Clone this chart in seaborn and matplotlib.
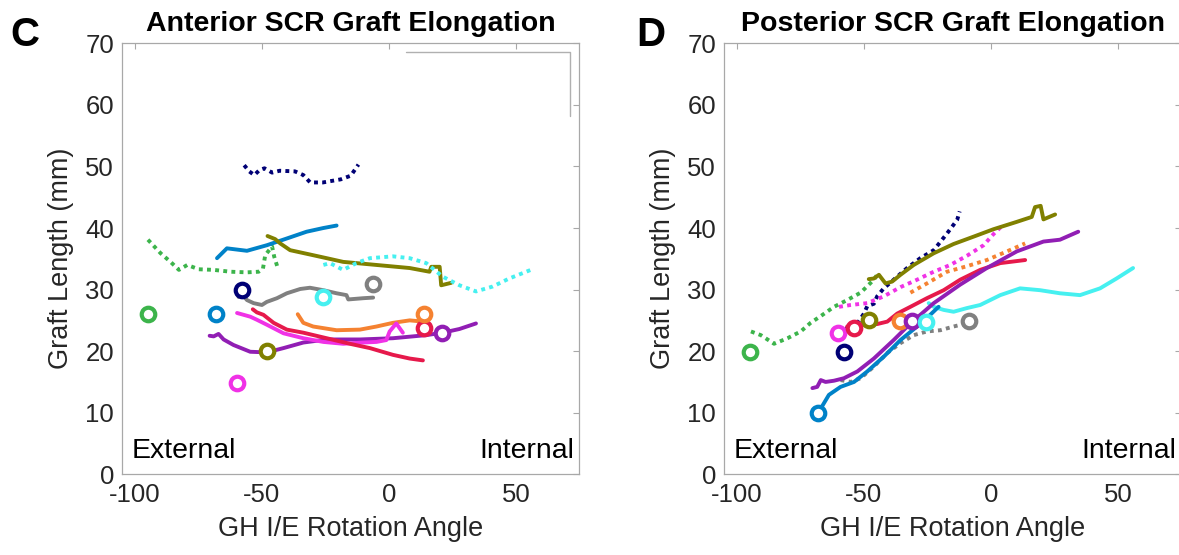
import numpy as np
import pandas as pd
import matplotlib
matplotlib.use("Agg")
import matplotlib.pyplot as plt
import seaborn as sns
from matplotlib.lines import Line2D

# ---------------- Panel C: Anterior SCR graft ----------------
ant_navy_x = [-57, -55, -53, -51, -49, -46, -43, -37, -33.7, -31, -26, -19, -15, -12]
ant_navy_y = [50.2, 49.2, 48.6, 49.4, 49.7, 49.0, 49.3, 49.2, 48.6, 47.4, 47.4, 47.9, 48.5, 50.3]

ant_blue_x = [-67.7, -63.8, -55.9, -48.1, -40.2, -32.4, -25.8, -20.6]
ant_blue_y = [35.1, 36.7, 36.3, 37.2, 38.3, 39.4, 40.0, 40.4]

ant_green_x = [-94.9, -89.9, -86, -82.7, -79.4, -74.9, -69, -62.4, -55.9, -51.3, -49.6, -48.7, -46.0, -45.2, -44.0]
ant_green_y = [38.1, 35.9, 34.5, 33.2, 34.0, 33.3, 33.2, 32.9, 32.8, 32.9, 33.4, 35.6, 37.0, 35.4, 33.8]

ant_olive_x = [-47.8, -44.8, -42.8, -38.9, -31.1, -24.5, -18, -4.9, 8.2, 16, 16.7, 20, 20.6, 24.6]
ant_olive_y = [38.7, 38.2, 37.5, 36.4, 35.7, 35.1, 34.5, 34.0, 33.5, 32.9, 33.7, 33.7, 30.7, 31.1]

ant_cyan_x = [-25.8, -23.2, -18, -12.8, -7.5, 1.6, 8.2, 14.7, 21.2, 27.8, 34.3, 40.9, 47.4, 55.9]
ant_cyan_y = [34.0, 34.3, 33.2, 34.3, 35.1, 35.4, 35.1, 34.3, 32.1, 30.7, 29.7, 30.5, 31.8, 33.2]

ant_gray_x = [-59.2, -57.9, -55.9, -53.3, -50, -48.1, -44.1, -40.2, -34.9, -31.1, -25.8, -20.6, -16.7, -16, -10.1, -6.2]
ant_gray_y = [28.8, 29.3, 28.3, 27.8, 27.5, 28.0, 28.6, 29.4, 30.1, 30.3, 29.9, 29.4, 29.1, 28.4, 28.6, 28.7]

ant_red_x = [-53.6, -52, -49.4, -45.4, -40.2, -33.7, -24.5, -15.4, -7.5, 1.6, 8.2, 13.4]
ant_red_y = [26.8, 26.3, 25.9, 24.6, 23.5, 23.0, 22.1, 21.2, 20.5, 19.4, 18.8, 18.5]

ant_orange_x = [-35.9, -33.7, -29.8, -20.6, -11.4, -4.9, 1.6, 8.2, 13.4]
ant_orange_y = [26.0, 24.6, 24.0, 23.4, 23.5, 24.0, 24.6, 25.0, 24.8]

ant_magenta_x = [-59.8, -54.6, -52, -48.1, -41.5, -33.7, -25.8, -18, -10.1, -4.9, -1, 0.3, 2.9, 5.5]
ant_magenta_y = [26.2, 25.6, 25.1, 24.3, 22.9, 22.1, 21.5, 21.2, 21.4, 21.5, 21.8, 23.2, 24.5, 23.0]

ant_purple_x = [-70.6, -69, -67.1, -65.1, -61.2, -54.6, -48.1, -41.5, -33.7, -24.5, -11.4, 1.6, 14.7, 21.2, 27.8, 34.3]
ant_purple_y = [22.5, 22.4, 22.8, 21.9, 21.0, 19.9, 19.8, 20.5, 21.4, 21.9, 21.9, 22.1, 22.6, 23.0, 23.6, 24.5]

ant_marker_x = [-58.0, -68.0, -94.7, -48.1, -26.1, -6.2, 13.9, 13.7, -59.8, 20.9]
ant_marker_y = [29.9, 26.0, 26.0, 20.0, 28.8, 30.9, 23.8, 26.0, 14.9, 23.0]

# ---------------- Panel D: Posterior SCR graft ----------------
post_green_x = [-94.5, -90.6, -85.4, -80.1, -74.9, -71, -67, -61.8, -56.6, -51.3, -46.1, -44.8]
post_green_y = [23.2, 22.6, 21.2, 22.1, 23.2, 24.6, 25.7, 27.2, 28.3, 29.5, 31.6, 32.4]

post_navy_x = [-57.2, -53.9, -52.6, -50, -48.7, -46.1, -44.8, -42.2, -38.3, -33, -27.8, -22.5, -17.3, -13.3, -12.3]
post_navy_y = [24.0, 23.4, 24.5, 26.1, 27.3, 27.7, 28.9, 30.2, 31.6, 33.5, 35.1, 36.4, 39.1, 41.3, 42.7]

post_olive_x = [-48.1, -46.1, -44.1, -41.5, -38.9, -35.6, -30.4, -22.5, -14.7, -6.8, 1.0, 10.2, 16.1, 17.4, 19.6, 20.7, 25.3]
post_olive_y = [31.7, 31.8, 32.4, 31.0, 31.3, 32.4, 34.0, 35.9, 37.4, 38.6, 39.8, 41.0, 41.8, 43.4, 43.6, 41.4, 42.2]

post_magenta_x = [-59.8, -55.2, -48.7, -42.2, -35.6, -29.1, -22.5, -16, -9.4, -2.9, 1.0, 4.3]
post_magenta_y = [27.2, 27.5, 27.8, 28.9, 30.4, 31.6, 32.9, 34.0, 35.5, 37.2, 39.0, 40.3]

post_orange_x = [-31.7, -25.2, -17.3, -9.4, -1.6, 6.3, 13.5]
post_orange_y = [29.5, 31.0, 32.9, 33.8, 34.8, 36.2, 37.5]

post_red_x = [-56.6, -52.6, -48.7, -44.8, -40.8, -36.9, -31.7, -25.2, -18.6, -12.1, -4.2, 3.7, 13.5]
post_red_y = [24.0, 24.0, 24.5, 24.4, 24.8, 26.1, 27.2, 28.6, 29.9, 31.6, 33.2, 34.3, 34.8]

post_purple_x = [-70.3, -68.4, -67, -65.1, -61.8, -57.9, -52.6, -46.1, -38.3, -31.7, -22.5, -12.1, -1.6, 10.2, 20.7, 27.2, 34.4]
post_purple_y = [14.0, 14.2, 15.3, 15.0, 15.2, 15.6, 16.7, 18.8, 21.8, 24.5, 27.8, 30.8, 33.5, 36.2, 37.8, 38.1, 39.4]

post_blue_x = [-68.3, -66.4, -63.8, -59.2, -53.9, -48.7, -42.2, -35.6, -29.1, -23.9, -20.6]
post_blue_y = [9.9, 11.1, 12.9, 14.2, 15.0, 16.7, 19.1, 21.8, 24.0, 25.9, 27.2]

post_cyan_x = [-24.5, -22.5, -18.6, -14.7, -9.4, -4.2, 3.7, 11.5, 19.4, 27.2, 35.1, 43, 49.5, 56]
post_cyan_y = [27.8, 27.2, 26.7, 26.4, 27.0, 27.5, 29.1, 30.2, 29.9, 29.4, 29.1, 30.2, 31.8, 33.5]

post_gray_x = [-59.2, -55.2, -51.3, -46.1, -40.8, -35.6, -30.4, -25.2, -19.9, -14.7, -10.8]
post_gray_y = [15.3, 15.0, 15.6, 17.5, 19.7, 21.3, 22.6, 23.2, 23.4, 24.0, 24.4]

post_marker_x = [-94.8, -57.9, -48.1, -60.1, -35.9, -54.0, -31.0, -68.0, -25.4, -8.8]
post_marker_y = [19.9, 19.9, 25.1, 22.9, 24.9, 23.8, 24.9, 9.9, 24.8, 24.9]

# ---------------- styles ----------------
C = dict(navy="#000075", blue="#0082C8", green="#3CB44B", olive="#808000",
         cyan="#46F0F0", gray="#808080", red="#E6194B", orange="#F58231",
         magenta="#F032E6", purple="#911EB4")

ant_series = [
    (ant_green_x, ant_green_y, "green", ":"),
    (ant_navy_x, ant_navy_y, "navy", ":"),
    (ant_blue_x, ant_blue_y, "blue", "-"),
    (ant_olive_x, ant_olive_y, "olive", "-"),
    (ant_cyan_x, ant_cyan_y, "cyan", ":"),
    (ant_gray_x, ant_gray_y, "gray", "-"),
    (ant_orange_x, ant_orange_y, "orange", "-"),
    (ant_purple_x, ant_purple_y, "purple", "-"),
    (ant_magenta_x, ant_magenta_y, "magenta", "-"),
    (ant_red_x, ant_red_y, "red", "-"),
]
ant_marker_c = ["navy", "blue", "green", "olive", "cyan", "gray", "red", "orange", "magenta", "purple"]

post_series = [
    (post_green_x, post_green_y, "green", ":"),
    (post_navy_x, post_navy_y, "navy", ":"),
    (post_gray_x, post_gray_y, "gray", ":"),
    (post_orange_x, post_orange_y, "orange", ":"),
    (post_magenta_x, post_magenta_y, "magenta", ":"),
    (post_olive_x, post_olive_y, "olive", "-"),
    (post_red_x, post_red_y, "red", "-"),
    (post_cyan_x, post_cyan_y, "cyan", "-"),
    (post_blue_x, post_blue_y, "blue", "-"),
    (post_purple_x, post_purple_y, "purple", "-"),
]
post_marker_c = ["green", "navy", "olive", "magenta", "orange", "red", "purple", "blue", "cyan", "gray"]

x_ticks = [-100, -50, 0, 50]
y_ticks = [0, 10, 20, 30, 40, 50, 60, 70]

sns.set_style("white")
plt.rcParams["font.family"] = ["Liberation Sans", "DejaVu Sans"]
plt.rcParams["axes.unicode_minus"] = False

W, H = 1179, 555
fig = plt.figure(figsize=(W / 100, H / 100), dpi=100)

ax_l = fig.add_axes([122.3 / W, (H - 474.3) / H, 457 / W, 431 / H])
ax_r = fig.add_axes([724.3 / W, (H - 474.3) / H, 457 / W, 431 / H])

def draw(ax, series, mx, my, mc, title):
    for xs, ys, col, ls in series:
        df = pd.DataFrame({"x": xs, "y": ys})
        sns.lineplot(data=df, x="x", y="y", sort=False, estimator=None, ax=ax,
                     color=C[col], lw=2.8,
                     linestyle=(0, (1.0, 1.1)) if ls == ":" else "-",
                     dash_capstyle="butt", solid_capstyle="round",
                     solid_joinstyle="round")
    mdf = pd.DataFrame({"x": mx, "y": my, "c": mc})
    for _, r in mdf.iterrows():
        sns.scatterplot(x=[r.x], y=[r.y], ax=ax, s=95, marker="o",
                        facecolor="white", edgecolor=C[r.c], linewidth=3.0, zorder=5)
    ax.set_xlim(-105, 75)
    ax.set_ylim(0, 70)
    ax.set_xticks(x_ticks)
    ax.set_yticks(y_ticks)
    ax.tick_params(direction="in", length=4, width=0.8, color="#a8a8a8",
                   top=True, right=True, labelsize=18.5, labelcolor="#262626",
                   pad=6)
    for s in ax.spines.values():
        s.set_color("#a8a8a8")
        s.set_linewidth(0.9)
    ax.set_xlabel("GH I/E Rotation Angle", fontsize=19.5, color="#262626", labelpad=7)
    ax.set_ylabel("Graft Length (mm)", fontsize=19.5, color="#262626", labelpad=8)
    ax.set_title(title, fontsize=20.5, fontweight="bold", color="black", pad=9)
    ax.text(0.02, 0.025, "External", transform=ax.transAxes, fontsize=20.5,
            ha="left", va="bottom", color="black")
    ax.text(0.99, 0.025, "Internal", transform=ax.transAxes, fontsize=20.5,
            ha="right", va="bottom", color="black")
    ax.grid(False)

draw(ax_l, ant_series, ant_marker_x, ant_marker_y, ant_marker_c, "Anterior SCR Graft Elongation")
draw(ax_r, post_series, post_marker_x, post_marker_y, post_marker_c, "Posterior SCR Graft Elongation")

# clipped legend box outline (top/right edges) in panel C
ax_l.add_line(Line2D([0.621, 0.980, 0.980], [0.9805, 0.9805, 0.831],
                     transform=ax_l.transAxes, color="#b0b0b0", lw=1.0))

fig.text(10 / W, 1 - 46 / H, "C", fontsize=29, fontweight="bold", ha="left", va="baseline", color="black")
fig.text(636 / W, 1 - 46 / H, "D", fontsize=29, fontweight="bold", ha="left", va="baseline", color="black")

fig.savefig("out.png", dpi=100, facecolor="white")
